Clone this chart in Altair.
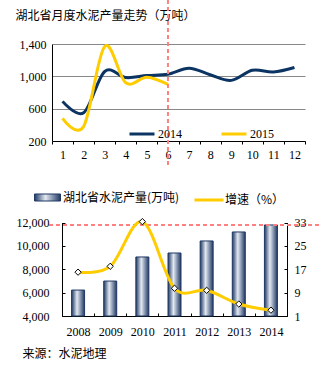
import altair as alt
import pandas as pd

# ---------------- data ----------------
months = [str(i) for i in range(1, 13)]
v2014 = [690, 550, 1060, 985, 1010, 1025, 1100, 1020, 950, 1075, 1055, 1110]
v2015 = [480, 380, 1370, 920, 990, 900]
series_names = ["2014", "2015"]
top_yticks = [200, 600, 1000, 1400]
mark_month = "6"

years = ["2008", "2009", "2010", "2011", "2012", "2013", "2014"]
production = [6220, 6990, 9050, 9390, 10420, 11190, 11790]
growth = [16.0, 18.0, 33.3, 10.5, 9.8, 5.1, 3.0]
left_ticks = [4000, 6000, 8000, 10000, 12000]
right_ticks = [1, 9, 17, 25, 33]

title_top = "湖北省月度水泥产量走势（万吨）"
bar_label = "湖北省水泥产量(万吨)"
growth_label = "增速（%）"
source_text = "来源：水泥地理"

# ---------------- style ----------------
W, H = 321, 367
NUM_FONT = "Liberation Serif"
CJK_FONT = "Noto Sans CJK SC"
NAVY = "#0B3463"
YELLOW = "#FFCC00"
RED = "#FF8080"
BAR_EDGE = "#1F3864"
COMMA = "format(datum.value, ',')"

top_df = pd.DataFrame({
    "month": months + months[:len(v2015)],
    "value": v2014 + v2015,
    "year": [series_names[0]] * len(v2014) + [series_names[1]] * len(v2015),
})
bot_df = pd.DataFrame({
    "year": years,
    "production": production,
    "growth": growth,
    "s1": [bar_label] * len(years),
    "s2": [growth_label] * len(years),
    "s3": ["marker"] * len(years),
})

x_top = alt.Scale(type="band", domain=months, range=[52, 305], paddingInner=0, paddingOuter=0)
y_top = alt.Scale(domain=[200, 1400], range=[141, 44], nice=False, zero=False)
x_bot = alt.Scale(type="band", domain=years, range=[62, 287], paddingInner=0, paddingOuter=0)
y_left = alt.Scale(domain=[4000, 12000], range=[316, 222.5], nice=False, zero=False)
y_right = alt.Scale(domain=[1, 33], range=[316, 222.5], nice=False, zero=False)

grad_stops = [
    alt.GradientStop(color=BAR_EDGE, offset=0),
    alt.GradientStop(color="#E3E9F1", offset=0.42),
    alt.GradientStop(color=BAR_EDGE, offset=1),
]
bar_gradient = alt.LinearGradient(gradient="linear", stops=grad_stops, x1=0, x2=1, y1=0, y2=0)

num_axis = dict(labelFont=NUM_FONT, labelFontSize=12, labelColor="black",
                domainColor="black", tickColor="black")

# ---------------- top panel ----------------
top_lines = alt.Chart(top_df).mark_line(interpolate="cardinal", strokeWidth=3).encode(
    x=alt.X("month:O", scale=x_top, sort=months,
            axis=alt.Axis(orient="bottom", offset=141 - H, tickBand="extent", ticks=True,
                          tickSize=3, labelPadding=5, labelAngle=0, grid=False, title=None,
                          **num_axis)),
    y=alt.Y("value:Q", scale=y_top,
            axis=alt.Axis(orient="left", offset=-52, values=top_yticks, labelExpr=COMMA,
                          ticks=False, tickSize=0, labelPadding=6, grid=True,
                          gridColor="#888888", gridWidth=1,
                          title=title_top, titleAngle=0, titleX=15 - 52, titleY=15,
                          titleAlign="left", titleBaseline="middle", titleFont=CJK_FONT,
                          titleFontSize=12, titleFontWeight="normal", titleColor="black",
                          **num_axis)),
    color=alt.Color("year:N", scale=alt.Scale(domain=series_names, range=[NAVY, YELLOW]),
                    legend=alt.Legend(orient="none", legendX=128, legendY=120,
                                      direction="horizontal", title=None, symbolType="stroke",
                                      symbolSize=625, symbolStrokeWidth=3, labelFont=NUM_FONT,
                                      labelFontSize=12, labelColor="black", labelOffset=2,
                                      columnPadding=33, padding=0)),
)

vrule = alt.Chart(pd.DataFrame({"month": [mark_month]})).mark_rule(
    color=RED, strokeWidth=2, strokeDash=[4, 3]).encode(
    x=alt.X("month:O", scale=x_top, axis=None),
    y=alt.value(0), y2=alt.value(167),
)

# ---------------- bottom panel ----------------
bars = alt.Chart(bot_df).mark_bar(size=13, fill=bar_gradient, strokeWidth=1).encode(
    x=alt.X("year:O", scale=x_bot,
            axis=alt.Axis(orient="bottom", offset=316 - H, tickBand="extent", ticks=False,
                          tickSize=0, labelPadding=10, labelAngle=0, grid=False,
                          title=source_text, titleX=22, titleY=37, titleAlign="left",
                          titleBaseline="middle", titleFont=CJK_FONT, titleFontSize=12,
                          titleFontWeight="normal", titleColor="black", **num_axis)),
    y=alt.Y("production:Q", scale=y_left,
            axis=alt.Axis(orient="left", offset=-62, values=left_ticks, labelExpr=COMMA,
                          ticks=False, tickSize=0, labelPadding=13, grid=False, title=None,
                          **num_axis)),
    y2=alt.datum(left_ticks[0]),
    stroke=alt.Stroke("s1:N", scale=alt.Scale(domain=[bar_label], range=[BAR_EDGE]),
                      legend=alt.Legend(orient="none", legendX=34, legendY=184, title=None,
                                        symbolType="M-1,-0.27H1V0.27H-1Z", symbolSize=676,
                                        symbolStrokeWidth=1, labelFont=CJK_FONT,
                                        labelFontSize=12, labelColor="black", labelOffset=2,
                                        padding=0)),
)

hrule = alt.Chart(pd.DataFrame({"v": [production[-1]]})).mark_rule(
    color=RED, strokeWidth=2, strokeDash=[4, 3]).encode(
    y=alt.Y("v:Q", scale=y_left,
            axis=alt.Axis(orient="left", offset=-65, values=left_ticks, labels=False,
                          domain=False, ticks=True, tickSize=3, grid=False, title=None,
                          tickColor="black")),
    x=alt.value(49), x2=alt.value(W),
)

gline = alt.Chart(bot_df).mark_line(interpolate="cardinal", strokeWidth=3).encode(
    x=alt.X("year:O", scale=x_bot, axis=None),
    y=alt.Y("growth:Q", scale=y_right,
            axis=alt.Axis(orient="right", offset=287 - W, values=right_ticks, ticks=False,
                          tickSize=0, labelPadding=7, grid=False, title=None, **num_axis)),
    stroke=alt.Stroke("s2:N", scale=alt.Scale(domain=[growth_label], range=[YELLOW]),
                      legend=alt.Legend(orient="none", legendX=193, legendY=184, title=None,
                                        symbolType="stroke", symbolSize=841,
                                        symbolStrokeWidth=3, labelFont=CJK_FONT,
                                        labelFontSize=12, labelColor="black", labelOffset=0,
                                        padding=0)),
)

gpts = alt.Chart(bot_df).mark_point(filled=False, fill="white", stroke="black",
                                    strokeWidth=1, size=40, opacity=1, fillOpacity=1).encode(
    x=alt.X("year:O", scale=x_bot,
            axis=alt.Axis(orient="bottom", offset=316 - H - 3, tickBand="extent",
                          labels=False, domain=False, ticks=True, tickSize=3, grid=False,
                          title=None, tickColor="black")),
    y=alt.Y("growth:Q", scale=y_right,
            axis=alt.Axis(orient="right", offset=287 - W - 3, values=right_ticks,
                          labels=False, domain=False, ticks=True, tickSize=3, grid=False,
                          title=None, tickColor="black")),
    shape=alt.Shape("s3:N", scale=alt.Scale(domain=["marker"], range=["diamond"]),
                    legend=alt.Legend(orient="none", legendX=204, legendY=184, title=None,
                                      labelExpr="''", labelFontSize=12,
                                      symbolFillColor="white",
                                      symbolStrokeColor="black", symbolStrokeWidth=1,
                                      symbolSize=40, symbolOpacity=1, symbolType="diamond",
                                      padding=0, zindex=2)),
)

chart = alt.layer(top_lines, vrule, bars, hrule, gline, gpts).resolve_scale(
    x="independent", y="independent", color="independent",
    stroke="independent", shape="independent",
).properties(
    width=W, height=H, padding=0, background="white",
    autosize=alt.AutoSizeParams(type="none"),
).configure_view(stroke=None)

chart.save("out.html", embed_options={"renderer": "svg", "actions": False})
